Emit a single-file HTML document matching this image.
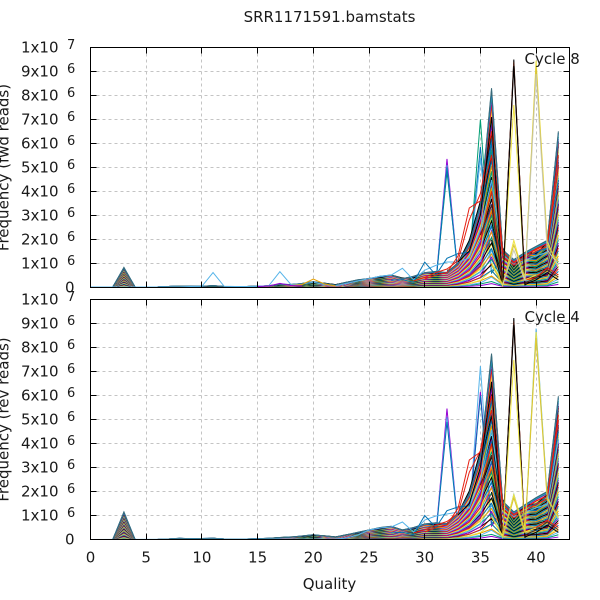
<!DOCTYPE html>
<html><head><meta charset="utf-8"><style>
html,body{margin:0;padding:0;background:#fff;}
svg{display:block;font-family:"DejaVu Sans","Liberation Sans",sans-serif;}
</style></head><body>
<svg width="600" height="600" viewBox="0 0 600 600" xmlns="http://www.w3.org/2000/svg">
<defs>
<polyline id="A" fill="none" vector-effect="non-scaling-stroke" points="90.5,0 101.64,0 112.78,0 123.92,-19.6 135.06,0 146.2,0 157.34,0 168.48,-0.5 179.62,-1 190.76,-0.7 201.9,-0.7 213.04,-1.4 224.18,-0.5 235.32,-0.5 246.46,-0.5 257.6,-0.7 268.74,-1.2 279.88,-2.9 291.02,-2.4 302.16,-3.6 313.3,-5.3 324.44,-3.6 335.58,-1.9 346.72,-4.8 357.86,-7.2 369,-8.4 380.14,-10.8 391.28,-12 402.42,-8.4 413.56,-10.8 424.7,-14.4 435.84,-15.6 446.98,-14.4 458.12,-24 469.26,-43.1 480.4,-81.4 491.54,-198.8 502.68,-37.1 513.82,-27.5 524.96,-34.7 536.1,-40.7 547.24,-46.7 558.38,-155.7"/>
<polyline id="B" fill="none" vector-effect="non-scaling-stroke" points="90.5,0 101.64,0 112.78,0 123.92,-19.6 135.06,0 146.2,0 157.34,0 168.48,-0.6 179.62,-0.8 190.76,-0.9 201.9,-0.6 213.04,-1.1 224.18,-0.6 235.32,-0.4 246.46,-0.6 257.6,-0.8 268.74,-1.4 279.88,-2.4 291.02,-2.8 302.16,-3.2 313.3,-4.6 324.44,-4.2 335.58,-2.6 346.72,-5.2 357.86,-6.8 369,-9.2 380.14,-10 391.28,-12.8 402.42,-9.6 413.56,-9.8 424.7,-15.2 435.84,-14.8 446.98,-15.8 458.12,-26 469.26,-50 480.4,-92 491.54,-165 502.68,-42 513.82,-22 524.96,-37 536.1,-36 547.24,-47 558.38,-156"/>
<polyline id="C" fill="none" vector-effect="non-scaling-stroke" points="90.5,0 101.64,0 112.78,0 123.92,-27.6 135.06,0 146.2,0 157.34,0 168.48,-0.5 179.62,-1.2 190.76,-0.8 201.9,-1 213.04,-1.2 224.18,-0.5 235.32,-0.5 246.46,-0.5 257.6,-0.7 268.74,-1.2 279.88,-1.9 291.02,-2.4 302.16,-3.6 313.3,-4.8 324.44,-3.6 335.58,-2.4 346.72,-4.8 357.86,-7.2 369,-9.6 380.14,-12 391.28,-13.2 402.42,-9.6 413.56,-12 424.7,-15.6 435.84,-16.8 446.98,-15.6 458.12,-26.4 469.26,-45.6 480.4,-84 491.54,-186 502.68,-38.4 513.82,-27.6 524.96,-34.8 536.1,-42 547.24,-48 558.38,-143.3"/>
<polyline id="D" fill="none" vector-effect="non-scaling-stroke" points="90.5,0 101.64,0 112.78,0 123.92,-27.6 135.06,0 146.2,0 157.34,0 168.48,-0.6 179.62,-1 190.76,-1 201.9,-0.8 213.04,-1.4 224.18,-0.6 235.32,-0.4 246.46,-0.6 257.6,-0.8 268.74,-1.3 279.88,-2.2 291.02,-2.8 302.16,-3.2 313.3,-4.4 324.44,-4 335.58,-2.8 346.72,-5.2 357.86,-6.8 369,-10 380.14,-11.4 391.28,-13.8 402.42,-10.2 413.56,-11.4 424.7,-16.2 435.84,-16 446.98,-17 458.12,-28 469.26,-52 480.4,-95 491.54,-155 502.68,-43 513.82,-22 524.96,-37 536.1,-38 547.24,-48 558.38,-143"/>
</defs>
<rect width="600" height="600" fill="#fff"/>

<g stroke="#c4c4c4" stroke-width="1" stroke-dasharray="3,3" fill="none">
<path d="M90.5,263.5H569.5M90.5,239.5H569.5M90.5,215.5H569.5M90.5,191.5H569.5M90.5,167.5H569.5M90.5,143.5H569.5M90.5,119.5H569.5M90.5,95.5H569.5M90.5,71.5H569.5"/>
<path d="M146.5,47.5V287.5M201.5,47.5V287.5M257.5,47.5V287.5M313.5,47.5V287.5M369.5,47.5V287.5M424.5,47.5V287.5M480.5,47.5V287.5M536.5,47.5V287.5"/>
<path d="M90.5,515.5H569.5M90.5,491.5H569.5M90.5,467.5H569.5M90.5,443.5H569.5M90.5,419.5H569.5M90.5,395.5H569.5M90.5,371.5H569.5M90.5,347.5H569.5M90.5,323.5H569.5"/>
<path d="M146.5,299.5V539.5M201.5,299.5V539.5M257.5,299.5V539.5M313.5,299.5V539.5M369.5,299.5V539.5M424.5,299.5V539.5M480.5,299.5V539.5M536.5,299.5V539.5"/>
</g>

<g fill="none" stroke-width="1">
<polyline stroke="#9400d3" points="413.56,279.8 424.7,275 435.84,282.2 446.98,158.9 458.12,275 469.26,265.4 480.4,239.1 491.54,215.1 502.68,263.1 513.82,270.2 524.96,265.4 536.1,260.7 547.24,255.9 558.38,191.2"/>
<polyline stroke="#009e73" points="413.56,280.5 424.7,276 435.84,283 446.98,172 458.12,273 469.26,264 480.4,235 491.54,210 502.68,262 513.82,269 524.96,266 536.1,259 547.24,254 558.38,195"/>
<polyline stroke="#56b4e9" points="413.56,281 424.7,274 435.84,282.5 446.98,164.9 458.12,274 469.26,266 480.4,240 491.54,220 502.68,264 513.82,271 524.96,264 536.1,261 547.24,256 558.38,188"/>
<polyline stroke="#0072b2" points="413.56,279 424.7,276 435.84,283.5 446.98,167.3 458.12,276 469.26,265 480.4,242 491.54,225 502.68,262 513.82,270 524.96,266 536.1,260 547.24,257 558.38,200"/>
<polyline stroke="#009e73" points="446.98,270.2 458.12,267.8 469.26,263.1 480.4,119.4 491.54,272.6 502.68,258.3 513.82,267.8 524.96,263.1 536.1,258.3 547.24,253.5 558.38,203.2"/>
<polyline stroke="#0072b2" points="446.98,271 458.12,266 469.26,262 480.4,146.9 491.54,273 502.68,259 513.82,268 524.96,262 536.1,257 547.24,252 558.38,205"/>
<polyline stroke="#56b4e9" points="446.98,272 458.12,268 469.26,264 480.4,158 491.54,271 502.68,257 513.82,266 524.96,263 536.1,259 547.24,254 558.38,208"/>
</g>

<g transform="translate(0,287)" fill="none" stroke-width="1">
<use href="#A" transform="scale(1,.017)" stroke="#9400d3"/>
<use href="#B" transform="scale(1,.033)" stroke="#009e73"/>
<use href="#A" transform="scale(1,.05)" stroke="#56b4e9"/>
<use href="#B" transform="scale(1,.067)" stroke="#e69f00"/>
<use href="#A" transform="scale(1,.083)" stroke="#f0e442"/>
<use href="#B" transform="scale(1,.1)" stroke="#0072b2"/>
<use href="#A" transform="scale(1,.117)" stroke="#e51e10"/>
<use href="#B" transform="scale(1,.133)" stroke="#000000"/>
<use href="#A" transform="scale(1,.15)" stroke="#9400d3"/>
<use href="#B" transform="scale(1,.167)" stroke="#009e73"/>
<use href="#A" transform="scale(1,.183)" stroke="#56b4e9"/>
<use href="#B" transform="scale(1,.2)" stroke="#e69f00"/>
<use href="#A" transform="scale(1,.217)" stroke="#f0e442"/>
<use href="#B" transform="scale(1,.233)" stroke="#0072b2"/>
<use href="#A" transform="scale(1,.25)" stroke="#e51e10"/>
<use href="#B" transform="scale(1,.267)" stroke="#000000"/>
<use href="#A" transform="scale(1,.283)" stroke="#9400d3"/>
<use href="#B" transform="scale(1,.3)" stroke="#009e73"/>
<use href="#A" transform="scale(1,.317)" stroke="#56b4e9"/>
<use href="#B" transform="scale(1,.333)" stroke="#e69f00"/>
<use href="#A" transform="scale(1,.35)" stroke="#f0e442"/>
<use href="#B" transform="scale(1,.367)" stroke="#0072b2"/>
<use href="#A" transform="scale(1,.383)" stroke="#e51e10"/>
<use href="#B" transform="scale(1,.4)" stroke="#000000"/>
<use href="#A" transform="scale(1,.417)" stroke="#9400d3"/>
<use href="#B" transform="scale(1,.433)" stroke="#009e73"/>
<use href="#A" transform="scale(1,.45)" stroke="#56b4e9"/>
<use href="#B" transform="scale(1,.467)" stroke="#e69f00"/>
<use href="#A" transform="scale(1,.483)" stroke="#f0e442"/>
<use href="#B" transform="scale(1,.5)" stroke="#0072b2"/>
<use href="#A" transform="scale(1,.517)" stroke="#e51e10"/>
<use href="#B" transform="scale(1,.533)" stroke="#000000"/>
<use href="#A" transform="scale(1,.55)" stroke="#9400d3"/>
<use href="#B" transform="scale(1,.567)" stroke="#009e73"/>
<use href="#A" transform="scale(1,.583)" stroke="#56b4e9"/>
<use href="#B" transform="scale(1,.6)" stroke="#e69f00"/>
<use href="#A" transform="scale(1,.617)" stroke="#f0e442"/>
<use href="#B" transform="scale(1,.633)" stroke="#0072b2"/>
<use href="#A" transform="scale(1,.65)" stroke="#e51e10"/>
<use href="#B" transform="scale(1,.667)" stroke="#000000"/>
<use href="#A" transform="scale(1,.683)" stroke="#9400d3"/>
<use href="#B" transform="scale(1,.7)" stroke="#009e73"/>
<use href="#A" transform="scale(1,.717)" stroke="#56b4e9"/>
<use href="#B" transform="scale(1,.733)" stroke="#e69f00"/>
<use href="#A" transform="scale(1,.75)" stroke="#f0e442"/>
<use href="#B" transform="scale(1,.767)" stroke="#0072b2"/>
<use href="#A" transform="scale(1,.783)" stroke="#e51e10"/>
<use href="#B" transform="scale(1,.8)" stroke="#000000"/>
<use href="#A" transform="scale(1,.817)" stroke="#9400d3"/>
<use href="#B" transform="scale(1,.833)" stroke="#009e73"/>
<use href="#A" transform="scale(1,.85)" stroke="#56b4e9"/>
<use href="#B" transform="scale(1,.867)" stroke="#e69f00"/>
<use href="#A" transform="scale(1,.883)" stroke="#f0e442"/>
<use href="#B" transform="scale(1,.9)" stroke="#0072b2"/>
<use href="#A" transform="scale(1,.917)" stroke="#e51e10"/>
<use href="#B" transform="scale(1,.933)" stroke="#000000"/>
<use href="#A" transform="scale(1,.95)" stroke="#9400d3"/>
<use href="#A" transform="scale(1,.965)" stroke="#009e73"/>
<use href="#A" transform="scale(1,.98)" stroke="#56b4e9"/>
<use href="#A" transform="scale(1,.99)" stroke="#0072b2"/>
<use href="#A" transform="scale(1,1)" stroke="#3a6a78"/>
</g>

<g fill="none" stroke-width="1">
<polyline stroke="#56b4e9" points="90.5,287 179.62,287 190.76,286.5 201.9,286.3 213.04,272.6 224.18,286.3 235.32,286.5 246.46,286.5 257.6,286.3 268.74,285.8 279.88,271.7 291.02,284.6 302.16,284.1 313.3,282.2 324.44,284.6 335.58,285.8 346.72,283.4 357.86,281 369,278.6 380.14,276.2 391.28,275 402.42,268.3 413.56,279.8 424.7,270.2 435.84,265.4 446.98,262 458.12,262 469.26,258 480.4,230 491.54,180 502.68,255 513.82,265 524.96,260 536.1,256 547.24,252 558.38,180"/>
<polyline stroke="#e69f00" points="291.02,285.5 302.16,284.5 313.3,279.1 324.44,284 335.58,286"/>
<polyline stroke="#9400d3" points="257.6,286.5 268.74,286 279.88,283.4 291.02,285.5 302.16,286"/>
<polyline stroke="#0072b2" points="391.28,280 402.42,279.8 413.56,282.2 424.7,262.1 435.84,275 446.98,258.3 458.12,253.5 469.26,252.3 480.4,215.2 491.54,143.3 502.68,253.5 513.82,263.1 524.96,257 536.1,252 547.24,248 558.38,180"/>
<polyline stroke="#e51e10" points="413.56,281 424.7,277.4 435.84,272.6 446.98,269 458.12,260.7 469.26,219.9 480.4,193.6 491.54,131.3 502.68,251.1 513.82,263.1 524.96,255.9 536.1,248.7 547.24,243.9 558.38,155.3"/>
<polyline stroke="#e51e10" points="424.7,279 435.84,275 446.98,272.6 458.12,255.9 469.26,208 480.4,200.8 491.54,155.3 502.68,255.9 513.82,265.4 524.96,258.3 536.1,251.1 547.24,246.3 558.38,167.3"/>
<polyline stroke="#000000" points="458.12,262 469.26,251.1 480.4,215.2 491.54,117 502.68,285.8 513.82,59.5 524.96,284.6 536.1,279.8 547.24,272.6 558.38,279.8"/>
<polyline stroke="#e51e10" points="480.4,240 491.54,191.2 502.68,284.6 513.82,64.3 524.96,280 536.1,277.4 547.24,267.8 558.38,275"/>
<polyline stroke="#4a2418" points="480.4,235 491.54,205 502.68,285 513.82,61.9 524.96,283 536.1,278 547.24,270 558.38,277"/>
<polyline stroke="#f0e442" points="491.54,263.1 502.68,282.2 513.82,105 524.96,279.8 536.1,275"/>
<polyline stroke="#000000" points="491.54,240 502.68,286 513.82,66 524.96,285.5"/>
<polyline stroke="#f0e442" points="491.54,263.1 502.68,285.8 513.82,240.3 524.96,279.8 536.1,60.7 547.24,241.5 558.38,267.8"/>
<polyline stroke="#d8c436" points="491.54,265 502.68,284 513.82,245 524.96,277 536.1,66 547.24,245 558.38,262"/>
<polyline stroke="#c8c8b0" points="502.68,285 513.82,250 524.96,281 536.1,74 547.24,250 558.38,265"/>
</g>

<g fill="none" stroke-width="1">
<polyline stroke="#9400d3" points="413.56,532.3 424.7,527.5 435.84,534.7 446.98,408.5 458.12,527.5 469.26,517.9 480.4,491.5 491.54,467.5 502.68,515.5 513.82,522.7 524.96,517.9 536.1,513.1 547.24,508.3 558.38,443.5"/>
<polyline stroke="#56b4e9" points="413.56,533 424.7,528.5 435.84,535 446.98,417.1 458.12,526 469.26,518.5 480.4,490 491.54,462 502.68,516 513.82,523 524.96,517 536.1,512 547.24,509 558.38,447"/>
<polyline stroke="#0072b2" points="413.56,531.5 424.7,526.5 435.84,535.5 446.98,421.9 458.12,528 469.26,517 480.4,493 491.54,470 502.68,514 513.82,522 524.96,518.5 536.1,514 547.24,507 558.38,450"/>
<polyline stroke="#56b4e9" points="446.98,522.7 458.12,520.3 469.26,515.5 480.4,366 491.54,525.1 502.68,510.7 513.82,520.3 524.96,515.5 536.1,510.7 547.24,505.9 558.38,455.5"/>
<polyline stroke="#9400d3" points="446.98,523.5 458.12,519.5 469.26,514.5 480.4,391.9 491.54,526 502.68,511.5 513.82,521 524.96,514.5 536.1,509.5 547.24,505 558.38,458"/>
<polyline stroke="#0072b2" points="446.98,524 458.12,521 469.26,516.5 480.4,395.5 491.54,524 502.68,509.5 513.82,519.5 524.96,516 536.1,511.5 547.24,507 558.38,452"/>
</g>

<g transform="translate(0,539.5)" fill="none" stroke-width="1">
<use href="#C" transform="scale(1,.017)" stroke="#9400d3"/>
<use href="#D" transform="scale(1,.033)" stroke="#009e73"/>
<use href="#C" transform="scale(1,.05)" stroke="#56b4e9"/>
<use href="#D" transform="scale(1,.067)" stroke="#e69f00"/>
<use href="#C" transform="scale(1,.083)" stroke="#f0e442"/>
<use href="#D" transform="scale(1,.1)" stroke="#0072b2"/>
<use href="#C" transform="scale(1,.117)" stroke="#e51e10"/>
<use href="#D" transform="scale(1,.133)" stroke="#000000"/>
<use href="#C" transform="scale(1,.15)" stroke="#9400d3"/>
<use href="#D" transform="scale(1,.167)" stroke="#009e73"/>
<use href="#C" transform="scale(1,.183)" stroke="#56b4e9"/>
<use href="#D" transform="scale(1,.2)" stroke="#e69f00"/>
<use href="#C" transform="scale(1,.217)" stroke="#f0e442"/>
<use href="#D" transform="scale(1,.233)" stroke="#0072b2"/>
<use href="#C" transform="scale(1,.25)" stroke="#e51e10"/>
<use href="#D" transform="scale(1,.267)" stroke="#000000"/>
<use href="#C" transform="scale(1,.283)" stroke="#9400d3"/>
<use href="#D" transform="scale(1,.3)" stroke="#009e73"/>
<use href="#C" transform="scale(1,.317)" stroke="#56b4e9"/>
<use href="#D" transform="scale(1,.333)" stroke="#e69f00"/>
<use href="#C" transform="scale(1,.35)" stroke="#f0e442"/>
<use href="#D" transform="scale(1,.367)" stroke="#0072b2"/>
<use href="#C" transform="scale(1,.383)" stroke="#e51e10"/>
<use href="#D" transform="scale(1,.4)" stroke="#000000"/>
<use href="#C" transform="scale(1,.417)" stroke="#9400d3"/>
<use href="#D" transform="scale(1,.433)" stroke="#009e73"/>
<use href="#C" transform="scale(1,.45)" stroke="#56b4e9"/>
<use href="#D" transform="scale(1,.467)" stroke="#e69f00"/>
<use href="#C" transform="scale(1,.483)" stroke="#f0e442"/>
<use href="#D" transform="scale(1,.5)" stroke="#0072b2"/>
<use href="#C" transform="scale(1,.517)" stroke="#e51e10"/>
<use href="#D" transform="scale(1,.533)" stroke="#000000"/>
<use href="#C" transform="scale(1,.55)" stroke="#9400d3"/>
<use href="#D" transform="scale(1,.567)" stroke="#009e73"/>
<use href="#C" transform="scale(1,.583)" stroke="#56b4e9"/>
<use href="#D" transform="scale(1,.6)" stroke="#e69f00"/>
<use href="#C" transform="scale(1,.617)" stroke="#f0e442"/>
<use href="#D" transform="scale(1,.633)" stroke="#0072b2"/>
<use href="#C" transform="scale(1,.65)" stroke="#e51e10"/>
<use href="#D" transform="scale(1,.667)" stroke="#000000"/>
<use href="#C" transform="scale(1,.683)" stroke="#9400d3"/>
<use href="#D" transform="scale(1,.7)" stroke="#009e73"/>
<use href="#C" transform="scale(1,.717)" stroke="#56b4e9"/>
<use href="#D" transform="scale(1,.733)" stroke="#e69f00"/>
<use href="#C" transform="scale(1,.75)" stroke="#f0e442"/>
<use href="#D" transform="scale(1,.767)" stroke="#0072b2"/>
<use href="#C" transform="scale(1,.783)" stroke="#e51e10"/>
<use href="#D" transform="scale(1,.8)" stroke="#000000"/>
<use href="#C" transform="scale(1,.817)" stroke="#9400d3"/>
<use href="#D" transform="scale(1,.833)" stroke="#009e73"/>
<use href="#C" transform="scale(1,.85)" stroke="#56b4e9"/>
<use href="#D" transform="scale(1,.867)" stroke="#e69f00"/>
<use href="#C" transform="scale(1,.883)" stroke="#f0e442"/>
<use href="#D" transform="scale(1,.9)" stroke="#0072b2"/>
<use href="#C" transform="scale(1,.917)" stroke="#e51e10"/>
<use href="#D" transform="scale(1,.933)" stroke="#000000"/>
<use href="#C" transform="scale(1,.95)" stroke="#9400d3"/>
<use href="#C" transform="scale(1,.965)" stroke="#009e73"/>
<use href="#C" transform="scale(1,.98)" stroke="#56b4e9"/>
<use href="#C" transform="scale(1,.99)" stroke="#0072b2"/>
<use href="#C" transform="scale(1,1)" stroke="#3a6a78"/>
</g>

<g fill="none" stroke-width="1">
<polyline stroke="#56b4e9" points="90.5,539.5 335.58,539 346.72,538 357.86,535 369,530 380.14,528 391.28,527 402.42,522 413.56,532 424.7,520 435.84,516 446.98,514 458.12,512 469.26,508 480.4,480 491.54,430 502.68,508 513.82,517 524.96,512 536.1,508 547.24,504 558.38,440"/>
<polyline stroke="#0072b2" points="391.28,533 402.42,532.3 413.56,534.7 424.7,515.5 435.84,527.5 446.98,510.7 458.12,506.9 469.26,505.9 480.4,467.5 491.54,400.3 502.68,505.9 513.82,515.5 524.96,508.3 536.1,503.5 547.24,498.7 558.38,431.5"/>
<polyline stroke="#e51e10" points="413.56,533 424.7,529.9 435.84,525.1 446.98,521.5 458.12,513.1 469.26,472.3 480.4,450.7 491.54,395.5 502.68,503.5 513.82,515.5 524.96,508.3 536.1,501.1 547.24,496.3 558.38,414.7"/>
<polyline stroke="#e51e10" points="424.7,532 435.84,527.5 446.98,525 458.12,508 469.26,460 480.4,452 491.54,410 502.68,508 513.82,518 524.96,511 536.1,504 547.24,499 558.38,420"/>
<polyline stroke="#000000" points="458.12,515 469.26,503.5 480.4,467.5 491.54,381.8 502.68,538.3 513.82,318 524.96,537.1 536.1,532.3 547.24,525.1 558.38,532.3"/>
<polyline stroke="#e51e10" points="480.4,490 491.54,443.5 502.68,537.1 513.82,323.5 524.96,532.3 536.1,527.5 547.24,520.3 558.38,527.5"/>
<polyline stroke="#4a2418" points="480.4,485 491.54,455 502.68,537.5 513.82,321.1 524.96,535 536.1,530 547.24,522 558.38,530"/>
<polyline stroke="#000000" points="491.54,492 502.68,538.5 513.82,325 524.96,538"/>
<polyline stroke="#f0e442" points="491.54,516 502.68,536 513.82,360 524.96,532 536.1,528"/>
<polyline stroke="#56b4e9" points="491.54,515.5 502.68,538.3 513.82,494.1 524.96,532.3 536.1,328.5 547.24,496.3 558.38,520.3"/>
<polyline stroke="#f0e442" points="491.54,517 502.68,537 513.82,494.6 524.96,531 536.1,332 547.24,498 558.38,518"/>
<polyline stroke="#d8c436" points="502.68,537.5 513.82,498 524.96,533 536.1,338 547.24,500 558.38,516"/>
</g>

<g stroke="#000" stroke-width="1" fill="none">
<rect x="90.5" y="47.5" width="479" height="240"/>
<rect x="90.5" y="299.5" width="479" height="240"/>
<path d="M90.5,263.5h6M90.5,239.5h6M90.5,215.5h6M90.5,191.5h6M90.5,167.5h6M90.5,143.5h6M90.5,119.5h6M90.5,95.5h6M90.5,71.5h6
M569.5,263.5h-6M569.5,239.5h-6M569.5,215.5h-6M569.5,191.5h-6M569.5,167.5h-6M569.5,143.5h-6M569.5,119.5h-6M569.5,95.5h-6M569.5,71.5h-6
M146.5,287.5v-6M201.5,287.5v-6M257.5,287.5v-6M313.5,287.5v-6M369.5,287.5v-6M424.5,287.5v-6M480.5,287.5v-6M536.5,287.5v-6
M146.5,47.5v6M201.5,47.5v6M257.5,47.5v6M313.5,47.5v6M369.5,47.5v6M424.5,47.5v6M480.5,47.5v6M536.5,47.5v6"/>
<path d="M90.5,515.5h6M90.5,491.5h6M90.5,467.5h6M90.5,443.5h6M90.5,419.5h6M90.5,395.5h6M90.5,371.5h6M90.5,347.5h6M90.5,323.5h6
M569.5,515.5h-6M569.5,491.5h-6M569.5,467.5h-6M569.5,443.5h-6M569.5,419.5h-6M569.5,395.5h-6M569.5,371.5h-6M569.5,347.5h-6M569.5,323.5h-6
M146.5,539.5v-6M201.5,539.5v-6M257.5,539.5v-6M313.5,539.5v-6M369.5,539.5v-6M424.5,539.5v-6M480.5,539.5v-6M536.5,539.5v-6
M146.5,299.5v6M201.5,299.5v6M257.5,299.5v6M313.5,299.5v6M369.5,299.5v6M424.5,299.5v6M480.5,299.5v6M536.5,299.5v6"/>
</g>

<g fill="#1a1a1a" font-size="15">
<text x="329.5" y="22" text-anchor="middle">SRR1171591.bamstats</text>
<text x="524.5" y="64">Cycle 8</text>
<text x="524.5" y="322">Cycle 4</text>
<text transform="translate(8.5,167.5) rotate(-90)" text-anchor="middle">Frequency (fwd reads)</text>
<text transform="translate(8.5,419.5) rotate(-90)" text-anchor="middle">Frequency (rev reads)</text>
<text x="329.5" y="589" text-anchor="middle">Quality</text>

<g text-anchor="middle">
<text x="90.5" y="562.5">0</text>
<text x="146.2" y="562.5">5</text>
<text x="201.9" y="562.5">10</text>
<text x="257.6" y="562.5">15</text>
<text x="313.3" y="562.5">20</text>
<text x="369" y="562.5">25</text>
<text x="424.7" y="562.5">30</text>
<text x="480.4" y="562.5">35</text>
<text x="536.1" y="562.5">40</text>
</g>

<g text-anchor="end">
<text x="74.5" y="292.3">0</text>
<text x="58.5" y="268.3">1x10</text>
<text x="58.5" y="244.3">2x10</text>
<text x="58.5" y="220.3">3x10</text>
<text x="58.5" y="196.3">4x10</text>
<text x="58.5" y="172.3">5x10</text>
<text x="58.5" y="148.3">6x10</text>
<text x="58.5" y="124.3">7x10</text>
<text x="58.5" y="100.3">8x10</text>
<text x="58.5" y="76.3">9x10</text>
<text x="58.5" y="52.3">1x10</text>
<text x="74.5" y="544.3">0</text>
<text x="58.5" y="520.3">1x10</text>
<text x="58.5" y="496.3">2x10</text>
<text x="58.5" y="472.3">3x10</text>
<text x="58.5" y="448.3">4x10</text>
<text x="58.5" y="424.3">5x10</text>
<text x="58.5" y="400.3">6x10</text>
<text x="58.5" y="376.3">7x10</text>
<text x="58.5" y="352.3">8x10</text>
<text x="58.5" y="328.3">9x10</text>
<text x="58.5" y="304.3">1x10</text>
</g>
<g font-size="13">
<text x="67" y="264.8">6</text>
<text x="67" y="240.8">6</text>
<text x="67" y="216.8">6</text>
<text x="67" y="192.8">6</text>
<text x="67" y="168.8">6</text>
<text x="67" y="144.8">6</text>
<text x="67" y="120.8">6</text>
<text x="67" y="96.8">6</text>
<text x="67" y="72.8">6</text>
<text x="67" y="48.8">7</text>
<text x="67" y="516.8">6</text>
<text x="67" y="492.8">6</text>
<text x="67" y="468.8">6</text>
<text x="67" y="444.8">6</text>
<text x="67" y="420.8">6</text>
<text x="67" y="396.8">6</text>
<text x="67" y="372.8">6</text>
<text x="67" y="348.8">6</text>
<text x="67" y="324.8">6</text>
<text x="67" y="300.8">7</text>
</g>
</g>
</svg>
</body></html>
